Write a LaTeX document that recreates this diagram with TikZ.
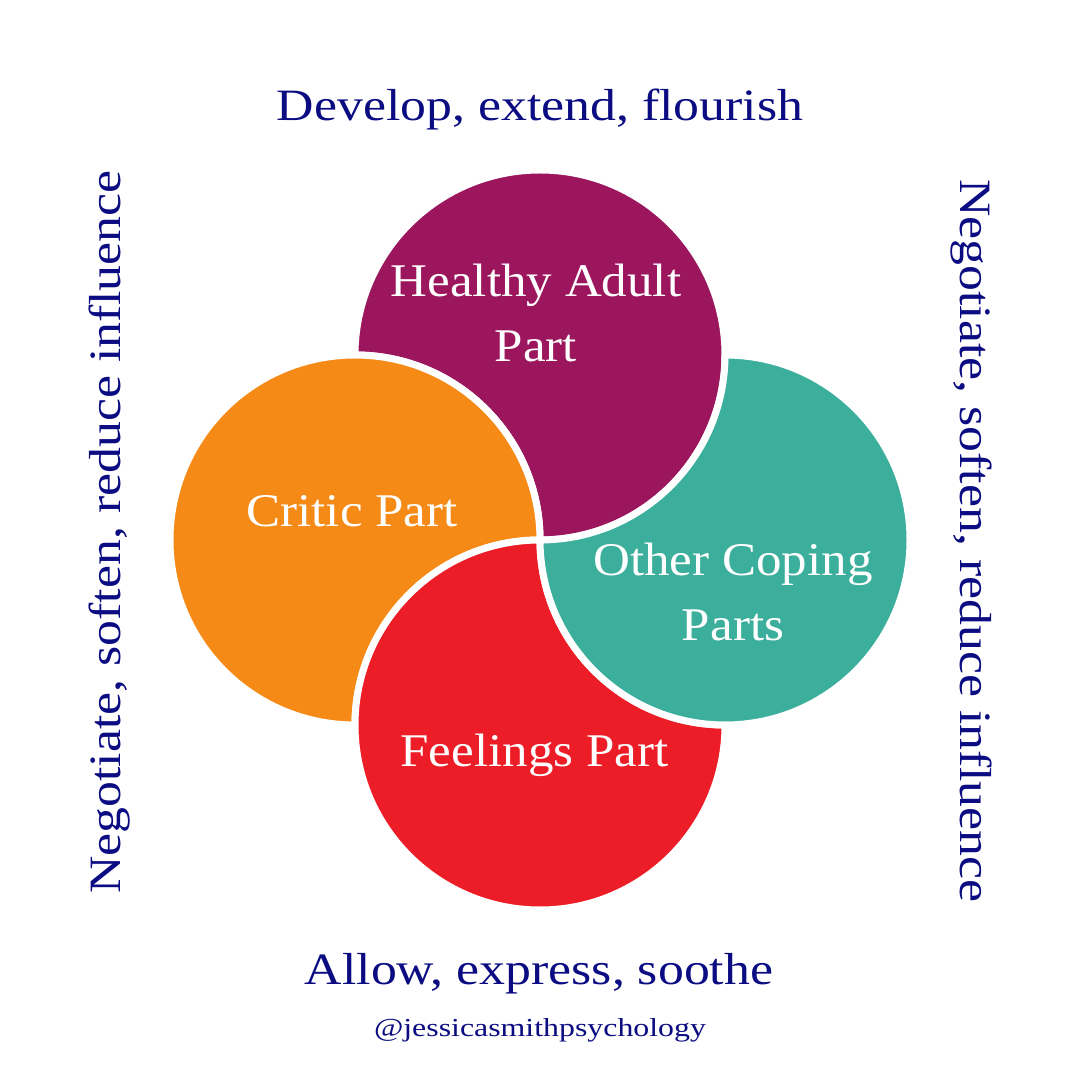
\documentclass[tikz,border=0pt]{standalone}
\usepackage{fontspec}
\setmainfont{Liberation Serif}
\newfontfamily\navyfont[FakeStretch=1.155]{Liberation Serif}
\newfontfamily\whitefont[FakeStretch=1.09]{Liberation Serif}
\newfontfamily\handlefont[FakeStretch=1.23]{Liberation Serif}
\definecolor{cpurple}{HTML}{9C165E}
\definecolor{corange}{HTML}{F68A17}
\definecolor{cred}{HTML}{ED1D27}
\definecolor{cteal}{HTML}{3CAE9C}
\definecolor{cnavy}{HTML}{0B0B82}
\tikzset{
  part/.style={draw=white, line width=7bp, line join=round},
  partlabel/.style={text=white, font=\whitefont\fontsize{47}{66}\selectfont, align=center, anchor=base, inner sep=0pt},
  guide/.style={text=cnavy, font=\navyfont\fontsize{45}{54}\selectfont, anchor=base, inner sep=0pt},
}
\begin{document}
\begin{tikzpicture}[x=1bp,y=1bp]
\useasboundingbox[fill=white] (0,0) rectangle (1080,1080);
% shapes (pinwheel)
\path[part, fill=cpurple] (355,725) arc[start angle=180, end angle=-90, radius=185]
   arc[start angle=0, end angle=90, radius=185] -- cycle;
\path[part, fill=corange] (540,540) arc[start angle=0, end angle=270, radius=185]
   arc[start angle=180, end angle=90, radius=185] -- cycle;
\path[part, fill=cred] (540,540) arc[start angle=90, end angle=360, radius=185]
   arc[start angle=270, end angle=180, radius=185] -- cycle;
\path[part, fill=cteal] (540,540) arc[start angle=180, end angle=450, radius=185]
   arc[start angle=0, end angle=-90, radius=185] -- cycle;
% labels (base = baseline of last line)
\node[partlabel] (ha) at (536,718) {Healthy Adult\\Part};
\node[partlabel] (cp) at (352,553) {Critic Part};
\node[partlabel] (oc) at (733,439) {Other Coping\\Parts};
\node[partlabel] (fp) at (534.5,313) {Feelings Part};
% guidance texts
\node[guide] (top) at (540,959) {Develop, extend, flourish};
\node[guide] (bot) at (539,95) {Allow, express, soothe};
\node[guide, rotate=90] (left) at (120,548) {Negotiate, soften, reduce influence};
\node[guide, rotate=-90] (right) at (960,539) {Negotiate, soften, reduce influence};
\node[text=cnavy, font=\handlefont\fontsize{26}{30}\selectfont, anchor=base, inner sep=0pt] (handle) at (540,43) {@jessicasmithpsychology};
\end{tikzpicture}
\end{document}
